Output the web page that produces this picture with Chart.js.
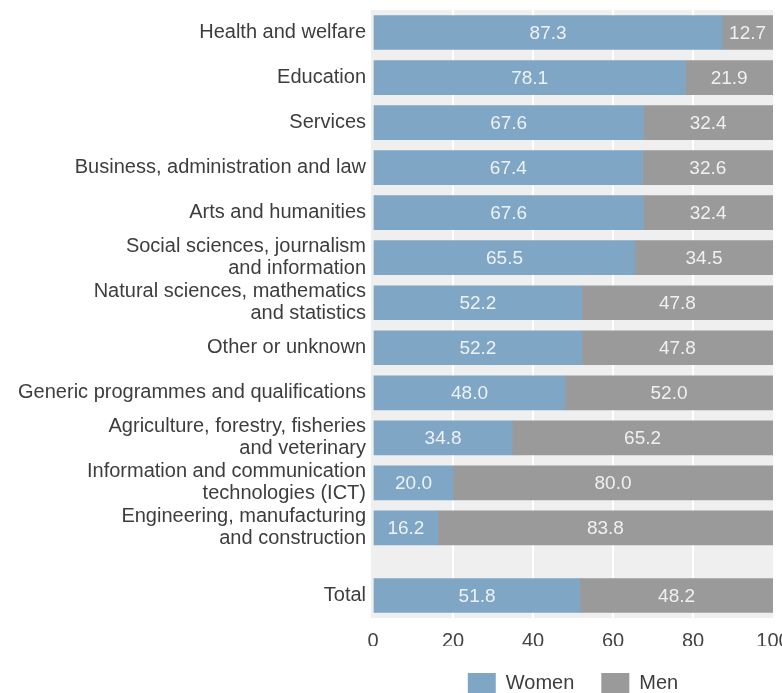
<!DOCTYPE html>
<html>
<head>
<meta charset="utf-8">
<script src="https://cdn.jsdelivr.net/npm/chart.js@4/dist/chart.umd.min.js"></script>
<style>
  html, body { margin: 0; padding: 0; background: #fff; }
  #chart { display: block; }
</style>
</head>
<body>
<canvas id="chart" width="782" height="693"></canvas>
<script>
// share of graduates by field, women vs men (%)
var fields = [
  'Health and welfare',
  'Education',
  'Services',
  'Business, administration and law',
  'Arts and humanities',
  ['Social sciences, journalism', 'and information'],
  ['Natural sciences, mathematics', 'and statistics'],
  'Other or unknown',
  'Generic programmes and qualifications',
  ['Agriculture, forestry, fisheries', 'and veterinary'],
  ['Information and communication', 'technologies (ICT)'],
  ['Engineering, manufacturing', 'and construction'],
  'Total'
];
// row positions, Total sits a little apart from the rest
var rows = [0, 1, 2, 3, 4, 5, 6, 7, 8, 9, 10, 11, 12.5];
var women = [87.3, 78.1, 67.6, 67.4, 67.6, 65.5, 52.2, 52.2, 48.0, 34.8, 20.0, 16.2, 51.8];
var men = [12.7, 21.9, 32.4, 32.6, 32.4, 34.5, 47.8, 47.8, 52.0, 65.2, 80.0, 83.8, 48.2];
var xTicks = [0, 20, 40, 60, 80, 100];

var FONT = '"Liberation Sans", Arial, sans-serif';

function points(vals) {
  return vals.map(function (v, i) { return { x: v, y: rows[i] }; });
}

var plotBg = {
  id: 'plotBg',
  beforeDraw: function (chart) {
    var a = chart.chartArea, ctx = chart.ctx;
    ctx.save();
    ctx.fillStyle = '#efefef';
    ctx.fillRect(a.left - 2, a.top, a.right - a.left + 2, a.bottom - a.top);
    ctx.restore();
  }
};

var barLabels = {
  id: 'barLabels',
  afterDatasetsDraw: function (chart) {
    var ctx = chart.ctx;
    ctx.save();
    ctx.font = '19px ' + FONT;
    ctx.fillStyle = 'rgba(255,255,255,0.85)';
    ctx.textAlign = 'center';
    ctx.textBaseline = 'middle';
    chart.data.datasets.forEach(function (ds, di) {
      chart.getDatasetMeta(di).data.forEach(function (bar, i) {
        ctx.fillText(ds.data[i].x.toFixed(1), (bar.x + bar.base) / 2, bar.y + 1);
      });
    });
    ctx.restore();
  }
};

new Chart(document.getElementById('chart'), {
  type: 'bar',
  data: {
    datasets: [
      { label: 'Women', data: points(women), backgroundColor: '#7fa6c4', barThickness: 34 },
      { label: 'Men', data: points(men), backgroundColor: '#9a9a9a', barThickness: 34 }
    ]
  },
  options: {
    indexAxis: 'y',
    responsive: false,
    animation: false,
    layout: { padding: { top: 10, right: 9, left: 0, bottom: -10 } },
    scales: {
      x: {
        type: 'linear',
        stacked: true,
        min: 0,
        max: 100,
        border: { display: false },
        grid: {
          drawTicks: false,
          lineWidth: 2,
          color: function (c) {
            return (c.tick && (c.tick.value === 0 || c.tick.value === 100)) ? 'rgba(0,0,0,0)' : '#ffffff';
          }
        },
        afterBuildTicks: function (axis) {
          axis.ticks = xTicks.map(function (v) { return { value: v }; });
        },
        afterFit: function (axis) {
          axis.height = 28;
          axis.paddingLeft = 0;
          axis.paddingRight = 0;
        },
        ticks: { padding: 11, maxRotation: 0, color: '#444', font: { family: FONT, size: 20 } }
      },
      y: {
        type: 'linear',
        stacked: true,
        reverse: true,
        offset: false,
        min: -0.5,
        max: 13,
        border: { display: false },
        grid: { display: false, drawTicks: false },
        afterBuildTicks: function (axis) {
          axis.ticks = rows.map(function (v) { return { value: v }; });
        },
        afterFit: function (axis) {
          axis.width = 373;
          axis.paddingTop = 0;
          axis.paddingBottom = 0;
        },
        ticks: {
          autoSkip: false,
          padding: 7,
          color: '#3d3d3d',
          font: { family: FONT, size: 20, lineHeight: 1.1 },
          callback: function (v) {
            var i = rows.indexOf(v);
            return i >= 0 ? fields[i] : '';
          }
        }
      }
    },
    plugins: {
      legend: {
        position: 'bottom',
        fullSize: false,
        labels: {
          boxWidth: 28,
          boxHeight: 20,
          padding: 27,
          color: '#3d3d3d',
          font: { family: FONT, size: 20 }
        }
      },
      tooltip: { enabled: false }
    }
  },
  plugins: [plotBg, barLabels]
});
</script>
</body>
</html>
